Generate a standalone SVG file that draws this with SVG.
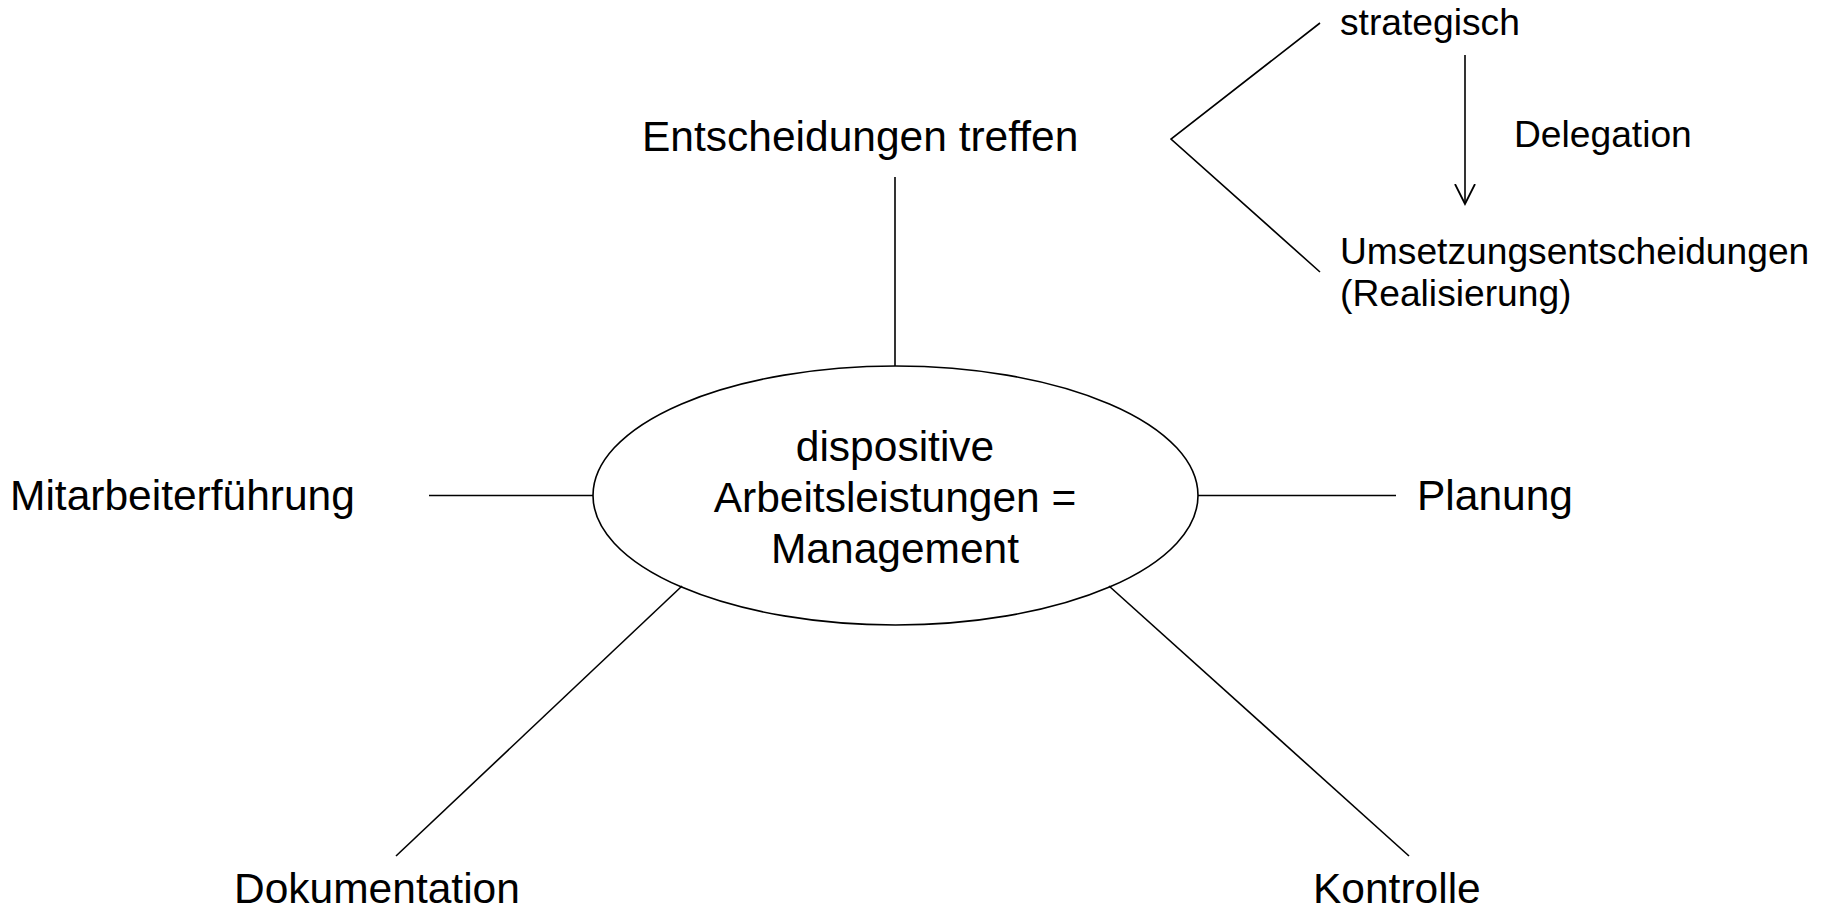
<svg xmlns="http://www.w3.org/2000/svg" width="1827" height="911" viewBox="0 0 1827 911">
  <style>
    .big { font-family: "Liberation Sans", Arial, sans-serif; font-size: 42.5px; fill: #000; }
    .small { font-family: "Liberation Sans", Arial, sans-serif; font-size: 37.2px; fill: #000; }
    .ln { stroke: #000; stroke-width: 1.6; fill: none; }
  </style>
  <defs>
    <marker id="vhead" markerUnits="userSpaceOnUse" viewBox="0 0 24 24" refX="20" refY="12" markerWidth="24" markerHeight="24" orient="auto">
      <path d="M0,2 L20,12 L0,22" fill="none" stroke="#000" stroke-width="1.8"/>
    </marker>
  </defs>
  <rect width="1827" height="911" fill="#fff"/>
  <g id="connectors">
    <line class="ln" x1="895" y1="177" x2="895" y2="366"/>
    <line class="ln" x1="429" y1="495.5" x2="593" y2="495.5"/>
    <line class="ln" x1="1198" y1="495.5" x2="1396" y2="495.5"/>
    <line class="ln" x1="682" y1="586" x2="396" y2="856"/>
    <line class="ln" x1="1109" y1="586" x2="1409" y2="856"/>
    <polyline class="ln" points="1320,23 1171,139 1320,272"/>
    <line class="ln" x1="1465" y1="55" x2="1465" y2="204" marker-end="url(#vhead)"/>
  </g>
  <g id="center">
    <ellipse class="ln" cx="895.5" cy="495.5" rx="302.5" ry="129.5" fill="#fff"/>
    <text class="big" x="895" y="461" text-anchor="middle">dispositive</text>
    <text class="big" x="895" y="512" text-anchor="middle">Arbeitsleistungen =</text>
    <text class="big" x="895" y="563" text-anchor="middle">Management</text>
  </g>
  <g id="entscheidungen"><text class="big" x="642" y="151">Entscheidungen treffen</text></g>
  <g id="mitarbeiterfuehrung"><text class="big" x="10" y="510">Mitarbeiterführung</text></g>
  <g id="planung"><text class="big" x="1417" y="510">Planung</text></g>
  <g id="dokumentation"><text class="big" x="234" y="903">Dokumentation</text></g>
  <g id="kontrolle"><text class="big" x="1313" y="903">Kontrolle</text></g>
  <g id="strategisch"><text class="small" x="1340" y="35">strategisch</text></g>
  <g id="delegation"><text class="small" x="1514" y="147">Delegation</text></g>
  <g id="umsetzung">
    <text class="small" x="1340" y="264">Umsetzungsentscheidungen</text>
    <text class="small" x="1340" y="306">(Realisierung)</text>
  </g>
</svg>
